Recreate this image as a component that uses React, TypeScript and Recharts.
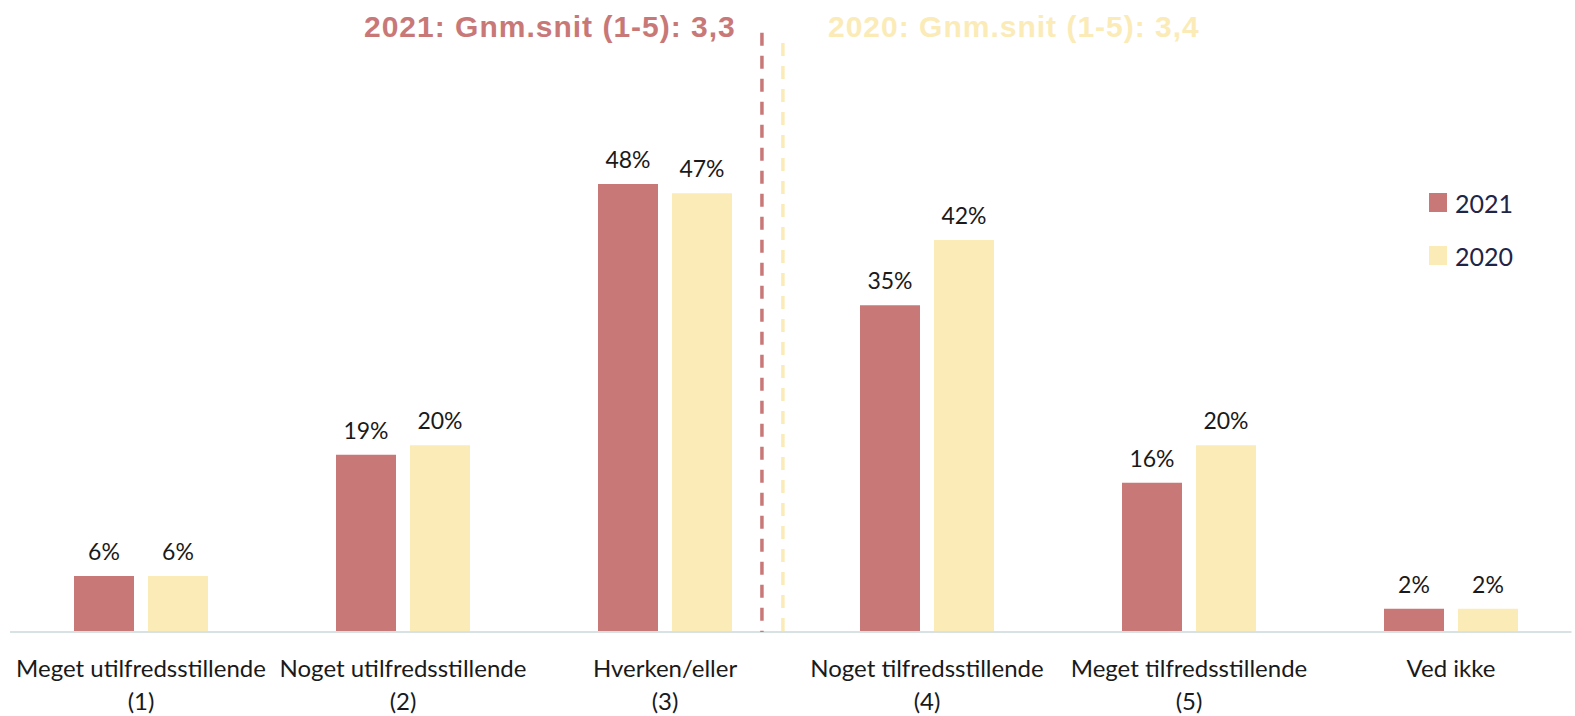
import React from "react";
import {
  Bar,
  BarChart,
  LabelList,
  Legend,
  ReferenceLine,
  XAxis,
  YAxis,
} from "recharts";

const categories = [
  "Meget utilfredsstillende\n(1)",
  "Noget utilfredsstillende\n(2)",
  "Hverken/eller\n(3)",
  "Noget tilfredsstillende\n(4)",
  "Meget tilfredsstillende\n(5)",
  "Ved ikke",
];
// bar heights (the 2% bars are drawn a touch taller, unrounded)
const values2021 = [6, 19, 48, 35, 16, 2.5];
const values2020 = [6, 20, 47, 42, 20, 2.5];
// printed labels
const shown2021 = [6, 19, 48, 35, 16, 2];
const shown2020 = [6, 20, 47, 42, 20, 2];
// centre of each category slot, in slot units (for the divider lines)
const slots = [0.5, 1.5, 2.5, 3.5, 4.5, 5.5];

const RED = "#c97878";
const YELLOW = "#fbebb7";
const INK = "#1a1a1a";

const data = categories.map((label, i) => ({
  label,
  slot: slots[i],
  y2021: values2021[i],
  y2020: values2020[i],
  l2021: shown2021[i],
  l2020: shown2020[i],
}));

const LABEL_FONT = "Lato, 'Open Sans', sans-serif";

function CategoryTick({ x, y, payload }: any) {
  const lines = String(payload.value).split("\n");
  return (
    <g transform={`translate(${x},${y})`}>
      {lines.map((line, i) => (
        <text
          key={i}
          x={0}
          y={43 + i * 33}
          textAnchor="middle"
          fontSize={24}
          fontFamily={LABEL_FONT}
          fill={INK}
        >
          {line}
        </text>
      ))}
    </g>
  );
}

function LegendContent() {
  const items = [
    { name: "2021", color: RED },
    { name: "2020", color: YELLOW },
  ];
  return (
    <div>
      {items.map((it) => (
        <div
          key={it.name}
          style={{
            display: "flex",
            alignItems: "center",
            height: 53,
            fontFamily: LABEL_FONT,
            fontSize: 25,
            color: "#1f2547",
          }}
        >
          <span
            style={{
              width: 18,
              height: 19,
              background: it.color,
              marginRight: 8,
              display: "inline-block",
            }}
          />
          {it.name}
        </div>
      ))}
    </div>
  );
}

const titleStyle: React.CSSProperties = {
  position: "absolute",
  top: 10,
  fontFamily: "'Liberation Sans', Arial, sans-serif",
  fontWeight: 700,
  fontSize: 30,
  letterSpacing: 1,
  whiteSpace: "nowrap",
};

export default function App() {
  return (
    <div
      style={{
        position: "absolute",
        left: 0,
        top: 0,
        width: 1575,
        height: 716,
        overflow: "hidden",
        background: "#fff",
      }}
    >
      <BarChart
        width={1582}
        height={716}
        data={data}
        margin={{ top: 72, right: 0, bottom: 0, left: 10 }}
        barGap={14}
        barSize={60}
      >
        <XAxis
          dataKey="label"
          height={84}
          axisLine={false}
          tickLine={false}
          tickSize={0}
          interval={0}
          tick={<CategoryTick />}
        />
        <XAxis
          xAxisId="n"
          dataKey="slot"
          type="number"
          domain={[0, 6]}
          allowDataOverflow
          hide
        />
        <YAxis domain={[0, 60]} allowDataOverflow hide />
        <ReferenceLine
          xAxisId="n"
          segment={[
            { x: 0, y: 0 },
            { x: 5.96, y: 0 },
          ]}
          stroke="#d8e2e2"
          strokeWidth={2}
          ifOverflow="visible"
        />
        <ReferenceLine
          xAxisId="n"
          segment={[
            { x: 2.87, y: 64.2 },
            { x: 2.87, y: 0 },
          ]}
          stroke={RED}
          strokeWidth={3.5}
          strokeDasharray="13 10"
          ifOverflow="visible"
        />
        <ReferenceLine
          xAxisId="n"
          segment={[
            { x: 2.95, y: 63.1 },
            { x: 2.95, y: -0.9 },
          ]}
          stroke={YELLOW}
          strokeWidth={3.5}
          strokeDasharray="13 10"
          ifOverflow="visible"
        />
        <Legend
          layout="vertical"
          align="center"
          verticalAlign="middle"
          content={<LegendContent />}
          wrapperStyle={{ left: 1429, top: 176, width: 120 }}
        />
        <Bar dataKey="y2021" name="2021" fill={RED} isAnimationActive={false}>
          <LabelList
            dataKey="l2021"
            position="top"
            offset={16}
            formatter={(v: any) => `${v}%`}
            fill={INK}
            fontSize={23}
            fontFamily={LABEL_FONT}
          />
        </Bar>
        <Bar dataKey="y2020" name="2020" fill={YELLOW} isAnimationActive={false}>
          <LabelList
            dataKey="l2020"
            position="top"
            offset={16}
            formatter={(v: any) => `${v}%`}
            fill={INK}
            fontSize={23}
            fontFamily={LABEL_FONT}
          />
        </Bar>
      </BarChart>
      <div style={{ ...titleStyle, left: 364, color: RED }}>
        2021: Gnm.snit (1-5): 3,3
      </div>
      <div style={{ ...titleStyle, left: 828, color: YELLOW }}>
        2020: Gnm.snit (1-5): 3,4
      </div>
    </div>
  );
}
